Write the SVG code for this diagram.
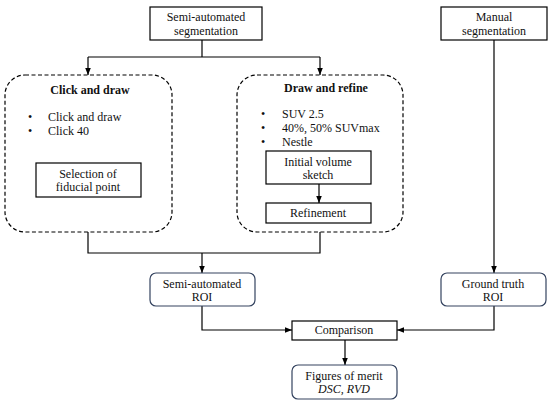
<svg xmlns="http://www.w3.org/2000/svg" width="550" height="404" viewBox="0 0 550 404">
<defs>
<marker id="ah" viewBox="0 0 10 10" refX="10" refY="5" markerWidth="7" markerHeight="7" markerUnits="userSpaceOnUse" orient="auto"><path d="M0,1 L10,5 L0,9 z" fill="#000"/></marker>
<style>
.t{font-family:"Liberation Serif","Times New Roman",serif;font-size:12px;fill:#111;text-anchor:middle}
.b{font-weight:bold}
.l{text-anchor:start}
.box{fill:#fff;stroke:#000;stroke-width:1.2}
.dash{fill:none;stroke:#000;stroke-width:1.2;stroke-dasharray:4,2.5}
.roi{fill:#fff;stroke:#34435f;stroke-width:1.2}
.c{fill:none;stroke:#000;stroke-width:1.2}
</style>
</defs>
<rect width="550" height="404" fill="#fff"/>
<g id="connectors">
<path class="c" d="M202,40 V57"/>
<path class="c" d="M88,57 H320"/>
<path class="c" d="M88,57 V75" marker-end="url(#ah)"/>
<path class="c" d="M320,57 V75" marker-end="url(#ah)"/>
<path class="c" d="M319,184 V203" marker-end="url(#ah)"/>
<path class="c" d="M88,232 V253 H320 V232"/>
<path class="c" d="M202,253 V273" marker-end="url(#ah)"/>
<path class="c" d="M494,40 V273" marker-end="url(#ah)"/>
<path class="c" d="M202,306 V330 H292" marker-end="url(#ah)"/>
<path class="c" d="M494,306 V330 H397" marker-end="url(#ah)"/>
<path class="c" d="M345,340 V365" marker-end="url(#ah)"/>
</g>
<g id="semi-seg">
<rect class="box" x="150" y="7" width="112" height="33"/>
<text class="t" x="206" y="21">Semi-automated</text>
<text class="t" x="206" y="35">segmentation</text>
</g>
<g id="manual-seg">
<rect class="box" x="441" y="7" width="106" height="33"/>
<text class="t" x="494" y="21">Manual</text>
<text class="t" x="494" y="35">segmentation</text>
</g>
<g id="click-draw">
<rect class="dash" x="5" y="75" width="167" height="157" rx="20"/>
<text class="t b" x="90" y="94">Click and draw</text>
<text class="t l" x="28" y="121">•</text>
<text class="t l" x="48" y="121">Click and draw</text>
<text class="t l" x="28" y="135">•</text>
<text class="t l" x="48" y="135">Click 40</text>
</g>
<g id="fiducial">
<rect class="box" x="36" y="163" width="105" height="34"/>
<text class="t" x="88" y="178">Selection of</text>
<text class="t" x="88" y="191">fiducial point</text>
</g>
<g id="draw-refine">
<rect class="dash" x="237" y="75" width="166" height="157" rx="20"/>
<text class="t b" x="326" y="92">Draw and refine</text>
<text class="t l" x="261" y="118">•</text>
<text class="t l" x="282" y="118">SUV 2.5</text>
<text class="t l" x="261" y="132">•</text>
<text class="t l" x="282" y="132">40%, 50% SUVmax</text>
<text class="t l" x="261" y="146">•</text>
<text class="t l" x="282" y="146">Nestle</text>
</g>
<g id="initial">
<rect class="box" x="266" y="151" width="105" height="33"/>
<text class="t" x="318" y="166">Initial volume</text>
<text class="t" x="318" y="179">sketch</text>
</g>
<g id="refinement">
<rect class="box" x="266" y="203" width="105" height="20"/>
<text class="t" x="318" y="217">Refinement</text>
</g>
<g id="semi-roi">
<rect class="roi" x="150" y="273" width="105" height="33" rx="6"/>
<text class="t" x="202" y="288">Semi-automated</text>
<text class="t" x="202" y="301">ROI</text>
</g>
<g id="gt-roi">
<rect class="roi" x="441" y="273" width="105" height="33" rx="6"/>
<text class="t" x="493" y="288">Ground truth</text>
<text class="t" x="493" y="301">ROI</text>
</g>
<g id="comparison">
<rect class="box" x="292" y="321" width="105" height="19"/>
<text class="t" x="344" y="334">Comparison</text>
</g>
<g id="figures">
<rect class="roi" x="292" y="365" width="105" height="34" rx="6"/>
<text class="t" x="344" y="380">Figures of merit</text>
<text class="t" x="344" y="393" font-style="italic">DSC, RVD</text>
</g>
</svg>
